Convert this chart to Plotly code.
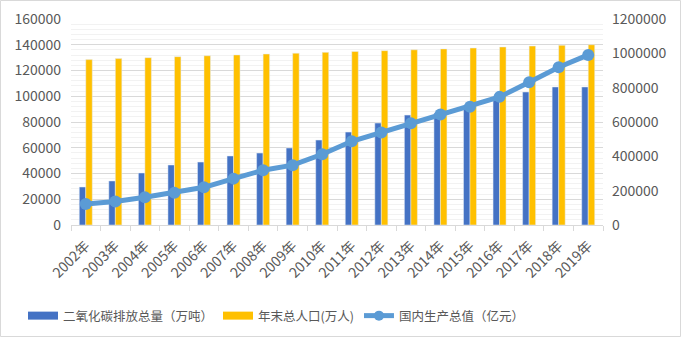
import plotly.graph_objects as go

years = ["2002年", "2003年", "2004年", "2005年", "2006年", "2007年", "2008年", "2009年", "2010年",
         "2011年", "2012年", "2013年", "2014年", "2015年", "2016年", "2017年", "2018年", "2019年"]
co2 = [29500, 34200, 40400, 46600, 48900, 53600, 55900, 59800, 66000,
       72200, 79200, 85400, 87000, 91000, 97000, 103300, 107200, 107200]
population = [128453, 129227, 129988, 130756, 131448, 132129, 132802, 133450, 134091,
              134735, 135404, 136072, 136782, 137462, 138271, 139008, 139538, 140005]
gdp = [121717, 137422, 161840, 187319, 219439, 270092, 319245, 348518, 412119,
       487940, 538580, 592963, 643563, 688858, 746395, 832036, 919281, 990865]

names = ["二氧化碳排放总量（万吨）", "年末总人口(万人)", "国内生产总值（亿元）"]
colors = ["#4472C4", "#FFC000", "#5B9BD5"]

FONT = "Noto Sans CJK SC, Liberation Sans, sans-serif"
GRAY = "#595959"

fig = go.Figure()
fig.add_trace(go.Bar(x=years, y=co2, name=names[0], marker_color=colors[0], yaxis="y", showlegend=False))
fig.add_trace(go.Bar(x=years, y=population, name=names[1], marker_color=colors[1], yaxis="y", showlegend=False))
fig.add_trace(go.Scatter(x=years, y=gdp, name=names[2], yaxis="y2", mode="lines+markers",
                         line=dict(color=colors[2], width=5),
                         marker=dict(color=colors[2], size=12), showlegend=False))
# legend entries (rectangles drawn as thick lines)
fig.add_trace(go.Scatter(x=[years[0]], y=[None], name=names[0], mode="lines",
                         line=dict(color=colors[0], width=8), yaxis="y"))
fig.add_trace(go.Scatter(x=[years[0]], y=[None], name=names[1], mode="lines",
                         line=dict(color=colors[1], width=8), yaxis="y"))
fig.add_trace(go.Scatter(x=[years[0]], y=[None], name=names[2], mode="lines+markers",
                         line=dict(color=colors[2], width=5), marker=dict(color=colors[2], size=10),
                         yaxis="y2"))

W, H = 681, 337
L, R, T, B = 71, 78, 19, 112
pw, ph = W - L - R, H - T - B

fig.update_layout(
    width=W, height=H,
    margin=dict(l=L, r=R, t=T, b=B, autoexpand=False),
    paper_bgcolor="white", plot_bgcolor="white",
    font=dict(family=FONT, size=14, color=GRAY),
    barmode="group", bargap=0.56, bargroupgap=0,
    showlegend=True,
    legend=dict(orientation="h", x=(23 - L) / pw, xanchor="left", y=(H - B - 316) / ph, yanchor="middle",
                font=dict(size=12.5, color=GRAY), itemwidth=30, tracegroupgap=0),
    xaxis=dict(type="category", categoryarray=years, range=[-0.5, len(years) - 0.5],
               showgrid=False, showline=True, linecolor="#D9D9D9",
               ticks="outside", tickson="boundaries", ticklen=5, tickcolor="#D9D9D9",
               tickangle=-45, tickfont=dict(size=14, color=GRAY), automargin=False,
               ticklabelstandoff=6),
    yaxis=dict(range=[0, 160000], dtick=20000, showgrid=True, gridcolor="#D9D9D9", gridwidth=1,
               minor=dict(dtick=4000, showgrid=True, gridcolor="#F2F2F2", gridwidth=1),
               zeroline=False, showline=False, tickformat="d", tickfont=dict(size=14, color=GRAY),
               ticklabelstandoff=9, automargin=False),
    yaxis2=dict(range=[0, 1200000], dtick=200000, overlaying="y", side="right", showgrid=False,
                zeroline=False, showline=False, tickformat="d", tickfont=dict(size=14, color=GRAY),
                ticklabelstandoff=8, automargin=False),
    shapes=[dict(type="rect", xref="paper", yref="paper",
                 x0=(0.5 - L) / pw, x1=(W - 0.5 - L) / pw,
                 y0=-(H - 0.5 - T - ph) / ph, y1=(T - 0.5) / ph + 1,
                 line=dict(color="#D9D9D9", width=1), fillcolor="rgba(0,0,0,0)", layer="below")],
)

fig.write_html("out.html")
